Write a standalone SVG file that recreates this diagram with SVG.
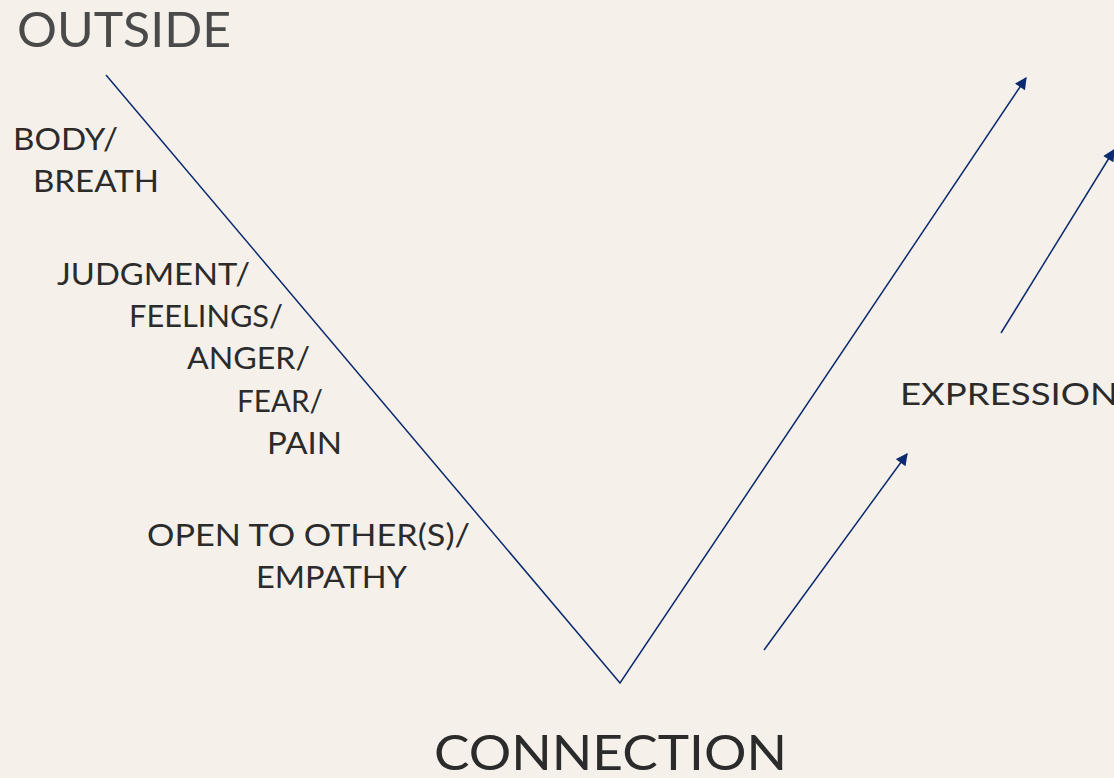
<svg xmlns="http://www.w3.org/2000/svg" width="1114" height="778" viewBox="0 0 1114 778">
<defs>
<marker id="ah" viewBox="0 0 10 10" refX="9" refY="5" markerWidth="9" markerHeight="8" orient="auto" markerUnits="strokeWidth">
<path d="M0,0 L10,5 L0,10 z" fill="#0b2a6f"/>
</marker>
<style>
.t{font-family:Lato,"Open Sans","Liberation Sans",sans-serif;fill:#2b2b2b;font-size:31px}
.big{font-size:49px}
.ln{stroke:#0b2a6f;stroke-width:1.5;fill:none}
</style>
</defs>
<rect width="1114" height="778" fill="#f5f1ea"/>
<g id="connectors">
<polyline class="ln" points="106,75 620,683 1026,78" marker-end="url(#ah)"/>
<line class="ln" x1="1001" y1="333" x2="1114" y2="150" marker-end="url(#ah)"/>
<line class="ln" x1="764" y1="650" x2="907" y2="454" marker-end="url(#ah)"/>
</g>
<g id="outside"><text class="t big" x="17" y="47" textLength="214" lengthAdjust="spacingAndGlyphs" style="fill:#4a4a4a">OUTSIDE</text></g>
<g id="body"><text class="t" x="13" y="150" textLength="105" lengthAdjust="spacingAndGlyphs">BODY/</text><text class="t" x="33" y="192" textLength="126" lengthAdjust="spacingAndGlyphs">BREATH</text></g>
<g id="judgment">
<text class="t" x="57" y="285" textLength="193" lengthAdjust="spacingAndGlyphs">JUDGMENT/</text>
<text class="t" x="129" y="327" textLength="154" lengthAdjust="spacingAndGlyphs">FEELINGS/</text>
<text class="t" x="187" y="369" textLength="123" lengthAdjust="spacingAndGlyphs">ANGER/</text>
<text class="t" x="237" y="412" textLength="86" lengthAdjust="spacingAndGlyphs">FEAR/</text>
<text class="t" x="267" y="454" textLength="75" lengthAdjust="spacingAndGlyphs">PAIN</text>
</g>
<g id="open"><text class="t" x="147" y="546" textLength="323" lengthAdjust="spacingAndGlyphs">OPEN TO OTHER(S)/</text><text class="t" x="256" y="588" textLength="151" lengthAdjust="spacingAndGlyphs">EMPATHY</text></g>
<g id="expression"><text class="t" x="900" y="405" textLength="218" lengthAdjust="spacingAndGlyphs">EXPRESSION</text></g>
<g id="connection"><text class="t big" x="434" y="770" textLength="353" lengthAdjust="spacingAndGlyphs">CONNECTION</text></g>
</svg>
